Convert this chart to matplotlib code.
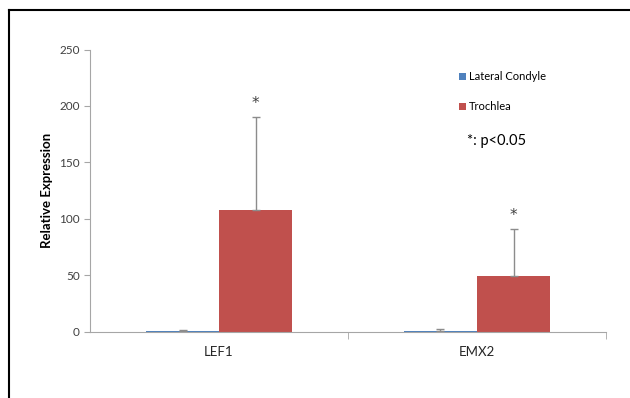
import numpy as np
import matplotlib
matplotlib.use("Agg")
import matplotlib.pyplot as plt
from matplotlib.lines import Line2D
from matplotlib.patches import Patch

plt.rcParams['font.family'] = ['Lato', 'DejaVu Sans']

genes = ['LEF1', 'EMX2']
series = ['Lateral Condyle', 'Trochlea']
lateral = [0.5, 0.6]
lateral_err = [1.2, 1.6]
trochlea = [108, 49]
trochlea_err = [82, 42]
sig_marks = ['*', '*']

colors = ['#4F81BD', '#C0504D']

fig = plt.figure(figsize=(6.3, 3.98), dpi=100)
ax = fig.add_axes([0.1429, 0.1666, 0.819, 0.709])

x = np.arange(len(genes))
w = 0.283
err_kw = dict(ecolor='#8c8c8c', elinewidth=1.0, capsize=3, capthick=1.0)
ax.bar(x - w / 2, lateral, w, color=colors[0],
       yerr=[np.zeros(len(genes)), lateral_err], error_kw=err_kw)
ax.bar(x + w / 2, trochlea, w, color=colors[1],
       yerr=[np.zeros(len(genes)), trochlea_err], error_kw=err_kw)

for i in range(len(genes)):
    top = trochlea[i] + trochlea_err[i]
    ax.text(x[i] + w / 2, top + 12, sig_marks[i], ha='center', va='center',
            fontsize=11, color='#404040', family='DejaVu Sans')

ax.set_xlim(-0.5, len(genes) - 0.5)
ax.set_ylim(0, 250)
ax.set_yticks([0, 50, 100, 150, 200, 250])
ax.set_xticks(x)
ax.set_xticklabels(genes, fontsize=9.5, color='#262626')
ax.tick_params(axis='x', length=0, pad=10)
ax.set_xticks([0.5, 1.5], minor=True)
ax.tick_params(axis='x', which='minor', length=5, color='#a6a6a6', direction='out')
ax.tick_params(axis='y', labelsize=8.5, labelcolor='#404040', length=4,
               color='#a6a6a6', direction='out')
for s in ['top', 'right']:
    ax.spines[s].set_visible(False)
for s in ['left', 'bottom']:
    ax.spines[s].set_color('#a6a6a6')
ax.set_ylabel('Relative Expression', fontsize=9.5, fontweight='bold',
              color='#000000', labelpad=4)

handles = [Patch(facecolor=c) for c in colors]
fig.legend(handles, series, loc='upper left', bbox_to_anchor=(0.722, 0.832),
           frameon=False, fontsize=8, handlelength=0.6, handleheight=0.6,
           handletextpad=0.3, labelspacing=1.7, borderaxespad=0)
fig.text(0.741, 0.645, '*: p<0.05', fontsize=10.5, color='#000000',
         ha='left', va='center')

# outer frame lines (left and top only, as in the cropped original)
fig.add_artist(Line2D([8.5 / 630, 8.5 / 630], [0, 1 - 10 / 398],
                      transform=fig.transFigure, color='black', lw=1.5))
fig.add_artist(Line2D([8.5 / 630, 1], [1 - 10 / 398, 1 - 10 / 398],
                      transform=fig.transFigure, color='black', lw=1.5))

fig.savefig('out.png', dpi=100)
